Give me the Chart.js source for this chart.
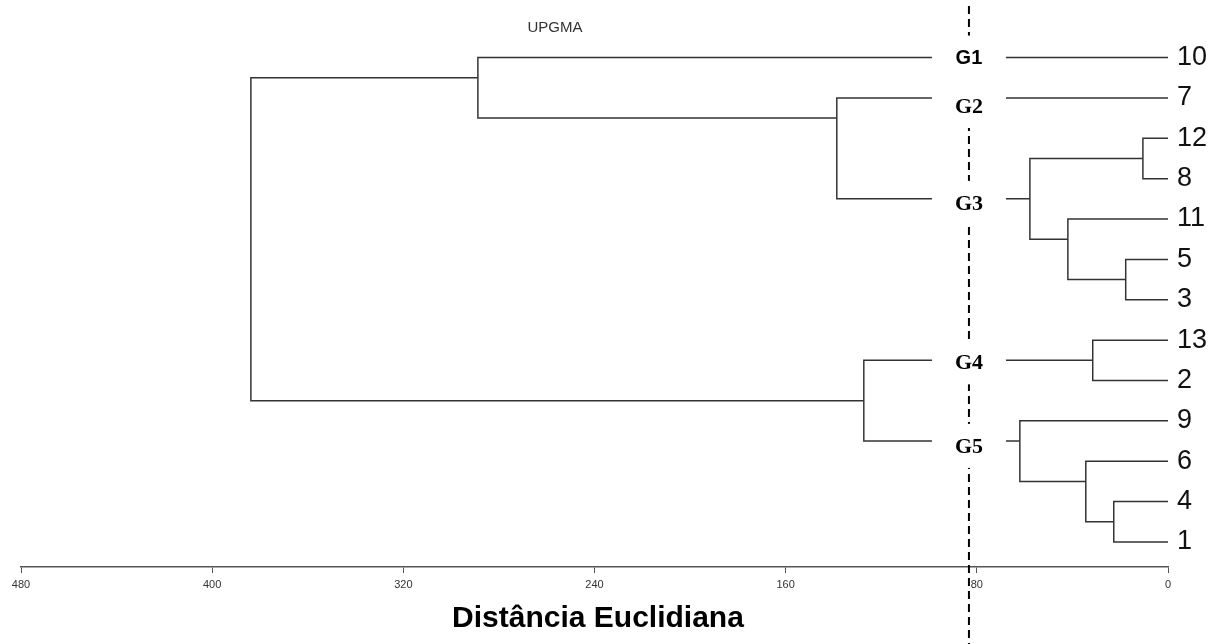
<!DOCTYPE html>
<html lang="pt">
<head>
<meta charset="UTF-8" />
<title>UPGMA</title>
<script src="https://cdn.jsdelivr.net/npm/chart.js@4.4.1/dist/chart.umd.min.js"></script>
<style>
  html, body { margin: 0; padding: 0; background: #fff; }
  .wrap { position: relative; width: 1213px; height: 644px; }
</style>
</head>
<body>
<div class="wrap"><canvas id="dendro"></canvas></div>
<script>
// leaf order, top to bottom
const leaves = ["10", "7", "12", "8", "11", "5", "3", "13", "2", "9", "6", "4", "1"];

// merge steps (R style): negative = leaf label, positive = earlier step (1-based)
const mergeA = [-12, -5, -11, 1, -7, -10, -13, -4, -6, -9, 7, 6];
const mergeB = [-8, -3, 2, 3, 4, 5, -2, -1, 8, 9, 10, 11];
const mergeHeight = [10.5, 17.7, 41.9, 57.8, 138.6, 288.8, 31.5, 22.7, 34.4, 62.0, 127.3, 383.8];

// x axis ticks
const distTicks = [0, 80, 160, 240, 320, 400, 480];

// cut line and groups
const cutHeight = 83.3;
const groupNames = ["G1", "G2", "G3", "G4", "G5"];
const groupPos = [0, 1.2, 3.6, 7.55, 9.62];

// walk the merges, work out where each node sits
const nodes = [];
function nodeInfo(ref) {
  if (ref < 0) {
    const i = leaves.indexOf(String(-ref));
    return { first: i, last: i, y: i, h: 0 };
  }
  return nodes[ref - 1];
}
const datasets = [];
mergeA.forEach((a, k) => {
  const L = nodeInfo(a);
  const R = nodeInfo(mergeB[k]);
  const h = mergeHeight[k];
  nodes.push({ first: L.first, last: R.last, y: (L.last + R.first) / 2, h: h });
  datasets.push({
    data: [
      { x: L.h, y: L.y },
      { x: h, y: L.y },
      { x: h, y: R.y },
      { x: R.h, y: R.y },
    ],
    showLine: true,
    borderColor: "#333",
    borderWidth: 1.5,
    pointRadius: 0,
    fill: false,
  });
});

const extras = {
  id: "extras",
  afterDatasetsDraw(chart) {
    const ctx = chart.ctx;
    const xs = chart.scales.x;
    const ys = chart.scales.y;
    const cx = xs.getPixelForValue(cutHeight);

    ctx.save();
    // dashed cut line
    ctx.strokeStyle = "#000";
    ctx.lineWidth = 2;
    ctx.setLineDash([8, 5]);
    ctx.beginPath();
    ctx.moveTo(cx, 6);
    ctx.lineTo(cx, 644);
    ctx.stroke();
    ctx.setLineDash([]);

    // group labels on white boxes
    ctx.textAlign = "center";
    ctx.textBaseline = "middle";
    groupNames.forEach((g, i) => {
      const py = ys.getPixelForValue(groupPos[i]);
      ctx.fillStyle = "#fff";
      ctx.fillRect(cx - 37, py - 22, 74, 44);
      ctx.fillStyle = "#000";
      ctx.font = i === 0 ? "bold 20px 'Liberation Sans'" : "bold 22px 'Liberation Serif'";
      ctx.fillText(g, cx, py + 1);
    });

    // small title
    ctx.fillStyle = "#333";
    ctx.font = "15px 'Liberation Sans'";
    ctx.fillText("UPGMA", 555, 28);

    // axis title
    ctx.fillStyle = "#000";
    ctx.font = "bold 30px 'Liberation Sans'";
    ctx.fillText("Distância Euclidiana", 598, 619);
    ctx.restore();
  },
};

new Chart("dendro", {
  type: "scatter",
  data: { datasets: datasets },
  options: {
    responsive: true,
    maintainAspectRatio: false,
    animation: false,
    layout: { padding: { left: 21, top: 17, right: 0, bottom: 0 } },
    plugins: { legend: { display: false }, tooltip: { enabled: false } },
    scales: {
      x: {
        type: "linear",
        reverse: true,
        min: 0,
        max: 480,
        afterBuildTicks: (s) => { s.ticks = distTicks.map((v) => ({ value: v })); },
        ticks: { font: { family: "Liberation Sans", size: 11 }, color: "#333", padding: 5, maxRotation: 0 },
        grid: { drawOnChartArea: false, drawTicks: true, tickLength: 6, color: "#555" },
        border: { display: true, color: "#555", width: 1.5 },
        afterFit: (s) => { s.height = 77; },
      },
      y: {
        type: "linear",
        position: "right",
        reverse: true,
        min: -1,
        max: 12.62,
        afterBuildTicks: (s) => { s.ticks = leaves.map((l, i) => ({ value: i })); },
        ticks: { callback: (v) => leaves[v], font: { family: "Liberation Sans", size: 27 }, color: "#111", padding: 1 },
        grid: { display: false },
        border: { display: false },
        afterFit: (s) => { s.width = 45; },
      },
    },
  },
  plugins: [extras],
});
</script>
</body>
</html>
